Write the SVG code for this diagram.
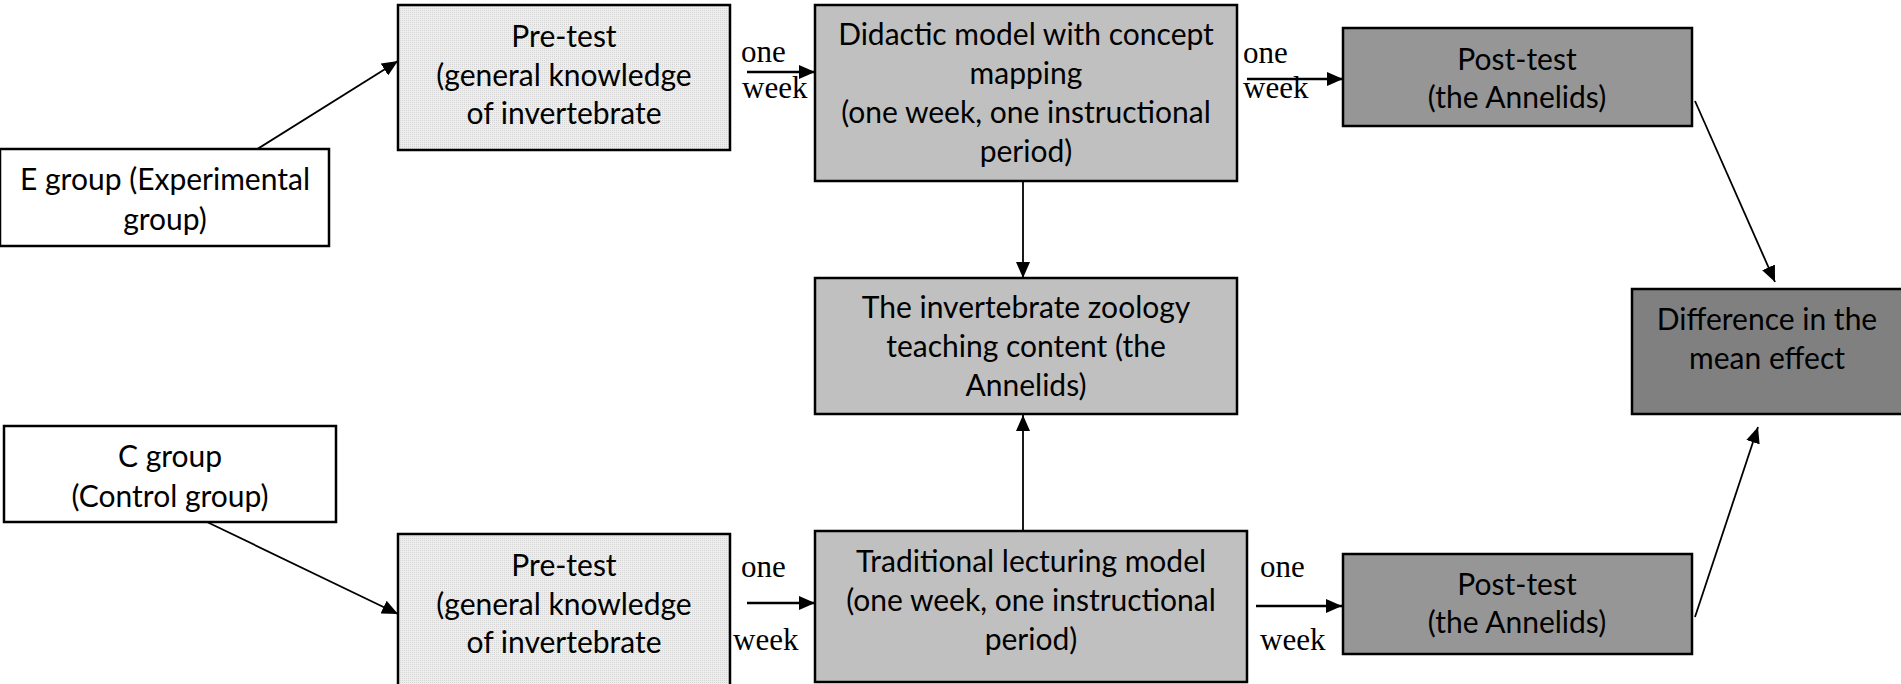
<svg xmlns="http://www.w3.org/2000/svg" width="1901" height="684" viewBox="0 0 1901 684">
<style>
.box{stroke:#000;stroke-width:2.5}
.white{fill:#fff}
.pre{fill:url(#dots)}
.mid{fill:#c0c0c0}
.post{fill:#969696}
.diff{fill:#808080}
.t{font-family:Lato,"Liberation Sans",sans-serif;font-size:30px;fill:#000;text-anchor:middle}
.lbl{font-family:"Liberation Serif",serif;font-size:31px;fill:#000}
.ln{stroke:#000;stroke-width:1.8;fill:none}
.ln2{stroke:#000;stroke-width:2.5;fill:none}
</style>
<defs>
<pattern id="dots" width="2" height="2" patternUnits="userSpaceOnUse">
<rect width="2" height="2" fill="#eeeeee"/>
<rect width="1" height="1" fill="#d4d4d4"/>
</pattern>
<marker id="ah" markerUnits="userSpaceOnUse" viewBox="0 0 16 14" refX="16" refY="7" markerWidth="16" markerHeight="14" orient="auto">
<path d="M0,0 L16,7 L0,14 Z" fill="#000"/>
</marker>
</defs>
<g id="connectors">
<line class="ln" x1="251" y1="153" x2="398" y2="61" marker-end="url(#ah)"/>
<line class="ln" x1="207" y1="522" x2="398" y2="614" marker-end="url(#ah)"/>
<line class="ln2" x1="747" y1="72" x2="815" y2="72" marker-end="url(#ah)"/>
<line class="ln2" x1="1247" y1="79" x2="1343" y2="79" marker-end="url(#ah)"/>
<line class="ln2" x1="747" y1="603" x2="815" y2="603" marker-end="url(#ah)"/>
<line class="ln2" x1="1256" y1="606" x2="1342" y2="606" marker-end="url(#ah)"/>
<line class="ln" x1="1023" y1="173" x2="1023" y2="278" marker-end="url(#ah)"/>
<line class="ln" x1="1023" y1="533" x2="1023" y2="415" marker-end="url(#ah)"/>
<line class="ln" x1="1695" y1="101" x2="1775" y2="282" marker-end="url(#ah)"/>
<line class="ln" x1="1695" y1="617" x2="1758" y2="427" marker-end="url(#ah)"/>
<text class="lbl" x="741" y="62">one</text>
<text class="lbl" x="742" y="98">week</text>
<text class="lbl" x="1243" y="63">one</text>
<text class="lbl" x="1243" y="98">week</text>
<text class="lbl" x="741" y="577">one</text>
<text class="lbl" x="733" y="650">week</text>
<text class="lbl" x="1260" y="577">one</text>
<text class="lbl" x="1260" y="650">week</text>
</g>
<g id="egroup">
<rect class="box white" x="0" y="149" width="329" height="97"/>
<text class="t" x="165" y="190">E group (Experimental</text>
<text class="t" x="165" y="230">group)</text>
</g>
<g id="pretest-e">
<rect class="box pre" x="398" y="5" width="332" height="145"/>
<text class="t" x="564" y="47">Pre-test</text>
<text class="t" x="564" y="86">(general knowledge</text>
<text class="t" x="564" y="124">of invertebrate</text>
</g>
<g id="didactic">
<rect class="box mid" x="815" y="5" width="422" height="176"/>
<text class="t" x="1026" y="45">Didactic model with concept</text>
<text class="t" x="1026" y="84">mapping</text>
<text class="t" x="1026" y="123">(one week, one instructional</text>
<text class="t" x="1026" y="162">period)</text>
</g>
<g id="posttest-e">
<rect class="box post" x="1343" y="28" width="349" height="98"/>
<text class="t" x="1517" y="70">Post-test</text>
<text class="t" x="1517" y="108">(the Annelids)</text>
</g>
<g id="content">
<rect class="box mid" x="815" y="278" width="422" height="136"/>
<text class="t" x="1026" y="318">The invertebrate zoology</text>
<text class="t" x="1026" y="357">teaching content (the</text>
<text class="t" x="1026" y="396">Annelids)</text>
</g>
<g id="difference">
<rect class="box diff" x="1632" y="289" width="272" height="125"/>
<text class="t" x="1767" y="330">Difference in the</text>
<text class="t" x="1767" y="369">mean effect</text>
</g>
<g id="cgroup">
<rect class="box white" x="4" y="426" width="332" height="96"/>
<text class="t" x="170" y="467">C group</text>
<text class="t" x="170" y="507">(Control group)</text>
</g>
<g id="pretest-c">
<rect class="box pre" x="398" y="534" width="332" height="160"/>
<text class="t" x="564" y="576">Pre-test</text>
<text class="t" x="564" y="615">(general knowledge</text>
<text class="t" x="564" y="653">of invertebrate</text>
</g>
<g id="traditional">
<rect class="box mid" x="815" y="531" width="432" height="151"/>
<text class="t" x="1031" y="572">Traditional lecturing model</text>
<text class="t" x="1031" y="611">(one week, one instructional</text>
<text class="t" x="1031" y="650">period)</text>
</g>
<g id="posttest-c">
<rect class="box post" x="1343" y="554" width="349" height="100"/>
<text class="t" x="1517" y="595">Post-test</text>
<text class="t" x="1517" y="633">(the Annelids)</text>
</g>
</svg>
